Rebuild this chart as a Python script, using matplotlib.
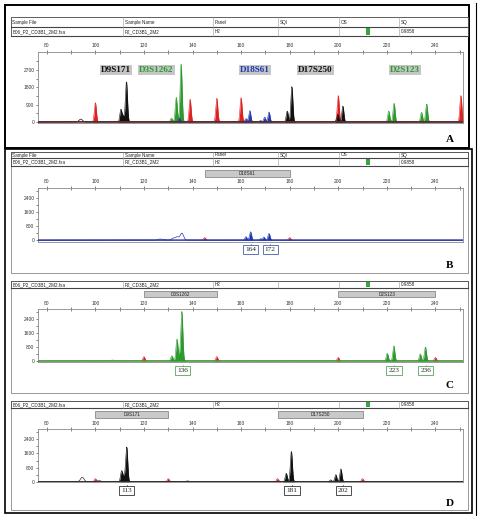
import numpy as np
import matplotlib
matplotlib.use("Agg")
import matplotlib.pyplot as plt
from matplotlib.patches import Rectangle
from matplotlib.lines import Line2D
from matplotlib import transforms

# ---------------- data ----------------
header_labels = ["Sample File", "Sample Name", "Panel", "SQI", "OS", "SQ"]
header_values = ["B06_P2_CD3B1_2M2.fsa", "P2_CD3B1_2M2", "H2", "", "", "0.9858"]
x_ticks = [80, 100, 120, 140, 160, 180, 200, 220, 240]

# Panel A (all dyes)
A_red_pos = [100, 139, 150, 160, 200, 250.5]
A_red_h = [1000, 1180, 1230, 1260, 1370, 1370]
A_black_pos = [110.5, 111.5, 112.8, 179.0, 180.9, 199.8, 201.9]
A_black_h = [650, 300, 2080, 570, 1840, 400, 830]
A_green_pos = [131.3, 133.3, 135.3, 220.8, 223.0, 234.3, 236.4]
A_green_h = [200, 1280, 3000, 570, 970, 500, 935]
A_blue_pos = [134.6, 162.0, 163.6, 168.0, 169.7, 171.5]
A_blue_h = [200, 180, 590, 80, 250, 520]
A_open_pos = [94.0]
A_open_h = [150]
A_markers = ["D9S171", "D3S1262", "D18S61", "D17S250", "D2S123"]
A_marker_x = [108.6, 125.2, 165.8, 190.7, 227.6]
A_yticks = [0, 900, 1800, 2700]

# Panel B (blue)
B_blue_pos = [162.0, 163.9, 168.0, 169.4, 171.5]
B_blue_h = [200, 480, 80, 180, 385]
B_open_pos = [126.4, 128.0, 132.0, 133.6, 135.6]
B_open_h = [60, 40, 100, 180, 400]
B_red_pos = [145, 180]
B_red_h = [150, 150]
B_bins = [("D18S61", 145, 180)]
B_alleles = [164, 172]
B_yticks = [0, 800, 1600, 2400]

# Panel C (green)
C_green_pos = [131.5, 133.6, 134.6, 135.6, 220.2, 222.9, 233.8, 235.9]
C_green_h = [300, 1240, 200, 2820, 440, 860, 400, 800]
C_open_pos = [95.0, 107.0, 164.0, 181.0]
C_open_h = [40, 60, 30, 40]
C_red_pos = [120, 150, 200, 240]
C_red_h = [250, 250, 200, 200]
C_bins = [("D3S1262", 120, 150), ("D2S123", 200, 240)]
C_alleles = [136, 223, 236]
C_yticks = [0, 800, 1600, 2400]

# Panel D (black)
D_black_pos = [110.8, 111.8, 112.9, 178.6, 180.7, 196.9, 199.0, 201.1]
D_black_h = [610, 300, 1960, 475, 1710, 100, 400, 720]
D_open_pos = [94.6, 101.5, 138.0]
D_open_h = [250, 60, 40]
D_red_pos = [100, 130, 175, 210]
D_red_h = [170, 170, 170, 170]
D_bins = [("D9S171", 100, 130), ("D17S250", 175, 210)]
D_alleles = [113, 181, 202]
D_yticks = [0, 800, 1600, 2400]

RED = "#e02020"
BLACK = "#111111"
GREEN = "#2e9a2e"
BLUE = "#2038b0"

W, H = 480, 516
fig = plt.figure(figsize=(4.8, 5.16), dpi=100)
SANS = "Liberation Sans"
SERIF = "Liberation Serif"


def fx(x):
    return x / W


def fy(y):
    return 1 - y / H


def rect(x0, y0, x1, y1, **kw):
    fig.patches.append(Rectangle((fx(x0), fy(y1)), (x1 - x0) / W, (y1 - y0) / H,
                                 transform=fig.transFigure, **kw))


def hline(x0, x1, y, **kw):
    fig.lines.append(Line2D([fx(x0), fx(x1)], [fy(y), fy(y)], transform=fig.transFigure, **kw))


def vline(x, y0, y1, **kw):
    fig.lines.append(Line2D([fx(x), fx(x)], [fy(y0), fy(y1)], transform=fig.transFigure, **kw))


cols = [11, 123, 213, 278, 339, 399]


def header(y0, y1, y2=None):
    rows = []
    if y2 is not None:
        rows.append((y0, y1, header_labels))
        rows.append((y1, y2, header_values))
        bottom = y2
    else:
        rows.append((y0, y1, header_values))
        bottom = y1
    rect(11, y0, 468, bottom, fc="white", ec="#444444", lw=0.6)
    for (ya, yb, texts) in rows:
        hline(11, 468, yb, color="#444444", lw=0.8)
        for c, t in zip(cols, texts):
            fig.text(fx(c + 1.5), fy((ya + yb) / 2 + 0.3), t, fontsize=3.3, family=SANS,
                     va="center", ha="left", color="#222222")
        for c in cols[1:]:
            vline(c, ya, yb, color="#999999", lw=0.4)
    ya, yb, _ = rows[-1]
    rect(366, ya + 1, 370, yb - 1, fc="#3aa53a", ec="none")


def peaks(x, pos, hts, s=0.42):
    y = np.zeros_like(x)
    for p, h in zip(pos, hts):
        y += h * np.exp(-0.5 * ((x - p) / s) ** 2)
    return y


xg = np.linspace(76.5, 251.5, 5000)


def make_axes(top, bottom, ylim, yticks):
    ax = fig.add_axes([fx(38.3), fy(bottom), (463.3 - 38.3) / W, (bottom - top) / H])
    ax.set_xlim(76.5, 251.5)
    ax.set_ylim(*ylim)
    ax.xaxis.tick_top()
    ax.set_xticks(x_ticks)
    ax.set_xticks(np.arange(90, 251, 20), minor=True)
    ax.set_yticks(yticks)
    step = yticks[1] - yticks[0]
    ax.set_yticks(np.arange(step / 2, yticks[-1] + step, step), minor=True)
    ax.tick_params(axis="x", which="both", direction="inout", length=3, width=0.5,
                   colors="#555555", labelsize=3.5, pad=1.2, labelcolor="#333333")
    ax.tick_params(axis="y", which="both", direction="out", length=1.8, width=0.5,
                   colors="#555555", labelsize=3.5, pad=1.0, labelcolor="#333333")
    for lab in ax.get_xticklabels() + ax.get_yticklabels():
        lab.set_family(SANS)
    for sp in ax.spines.values():
        sp.set_color("#888888")
        sp.set_linewidth(0.6)
    return ax


def draw_filled(ax, pos, hts, color, z=2):
    y = peaks(xg, pos, hts)
    ax.fill_between(xg, 0, y, color=color, lw=0, zorder=z)
    ax.plot(xg, y, color=color, lw=0.4, zorder=z)


def draw_open(ax, pos, hts, color):
    y = peaks(xg, pos, hts, s=0.7)
    ax.plot(xg, y, color=color, lw=0.5, zorder=3)


def bins(ax, items, ytop, ybot):
    tr = transforms.blended_transform_factory(ax.transData, fig.transFigure)
    for name, a, b in items:
        ax.add_patch(Rectangle((a, fy(ybot)), b - a, (ybot - ytop) / H, transform=tr,
                               fc="#c9c9c9", ec="#777777", lw=0.5, clip_on=False))
        ax.text((a + b) / 2, fy((ytop + ybot) / 2 + 0.3), name, transform=tr, fontsize=3.3,
                family=SANS, ha="center", va="center", color="#222222")


def alleles(ax, vals, ec, y_px):
    tr = transforms.blended_transform_factory(ax.transData, fig.transFigure)
    for v in vals:
        ax.plot([v, v], [fy(y_px - 6), fy(y_px - 4.5)], transform=tr, color=ec, lw=0.5, clip_on=False)
        ax.text(v, fy(y_px), str(v), transform=tr, fontsize=5.2, family=SERIF, ha="center",
                va="center", color="#222222",
                bbox=dict(boxstyle="square,pad=0.3", fc="white", ec=ec, lw=0.6))


# ---------------- frames ----------------
rect(5, 5, 469, 148, fc="none", ec="black", lw=1.4)
rect(5, 149, 472, 513, fc="none", ec="black", lw=1.2)
vline(475.5, 3, 515, color="black", lw=0.8)
rect(11, 151.5, 468, 273, fc="none", ec="#888888", lw=0.6)
rect(11, 281, 468, 393, fc="none", ec="#888888", lw=0.6)
rect(11, 401, 468, 510, fc="none", ec="#888888", lw=0.6)

# ---------------- Panel A ----------------
header(17.3, 26.7, 35.7)
axA = make_axes(52, 123, (-52, 3640), A_yticks)
draw_filled(axA, A_red_pos, A_red_h, RED, 2)
draw_filled(axA, A_green_pos, A_green_h, GREEN, 3)
draw_filled(axA, A_blue_pos, A_blue_h, BLUE, 4)
draw_filled(axA, A_black_pos, A_black_h, BLACK, 5)
draw_open(axA, A_open_pos, A_open_h, BLACK)
axA.plot(xg, np.zeros_like(xg) + 15, color="#6b2626", lw=0.9, zorder=6)
mcolors = [BLACK, GREEN, BLUE, BLACK, GREEN]
for name, xm, c in zip(A_markers, A_marker_x, mcolors):
    axA.text(xm, 2700, name, fontsize=6.6, family=SERIF, weight="bold", color=c,
             ha="center", va="center",
             bbox=dict(boxstyle="square,pad=0.12", fc="#c6c6c6", ec="none"))
fig.text(fx(450), fy(139), "A", fontsize=8, family=SERIF, weight="bold", ha="center", va="center")

# ---------------- Panel B ----------------
header(151.7, 157.7, 165.7)
axB = make_axes(187.7, 241.7, (-90, 3010), B_yticks)
bins(axB, B_bins, 170, 177.3)
draw_filled(axB, B_red_pos, B_red_h, RED, 2)
draw_filled(axB, B_blue_pos, B_blue_h, BLUE, 4)
draw_open(axB, B_open_pos, B_open_h, BLUE)
axB.plot(xg, np.zeros_like(xg), color=BLUE, lw=0.8, zorder=5)
alleles(axB, B_alleles, "#4060b0", 249.7)
fig.text(fx(450), fy(266), "B", fontsize=8, family=SERIF, weight="bold", ha="center", va="center")

# ---------------- Panel C ----------------
header(281, 287.7)
axC = make_axes(309.3, 362.3, (-75, 2955), C_yticks)
bins(axC, C_bins, 290.7, 297.3)
draw_open(axC, C_open_pos, C_open_h, "#aaaaaa")
draw_filled(axC, C_red_pos, C_red_h, RED, 2)
draw_filled(axC, C_green_pos, C_green_h, GREEN, 4)
axC.plot(xg, np.zeros_like(xg), color=GREEN, lw=0.8, zorder=5)
alleles(axC, C_alleles, "#60a060", 370.5)
fig.text(fx(450), fy(385), "C", fontsize=8, family=SERIF, weight="bold", ha="center", va="center")

# ---------------- Panel D ----------------
header(401, 408)
axD = make_axes(429.3, 482.3, (-35, 2970), D_yticks)
bins(axD, D_bins, 411, 418.3)
draw_filled(axD, D_red_pos, D_red_h, RED, 2)
draw_filled(axD, D_black_pos, D_black_h, BLACK, 4)
draw_open(axD, D_open_pos, D_open_h, "#333333")
axD.plot(xg, np.zeros_like(xg), color="#333333", lw=0.8, zorder=5)
alleles(axD, D_alleles, "#333333", 490.5)
fig.text(fx(450), fy(503.5), "D", fontsize=8, family=SERIF, weight="bold", ha="center", va="center")

fig.savefig("out.png", dpi=100)
